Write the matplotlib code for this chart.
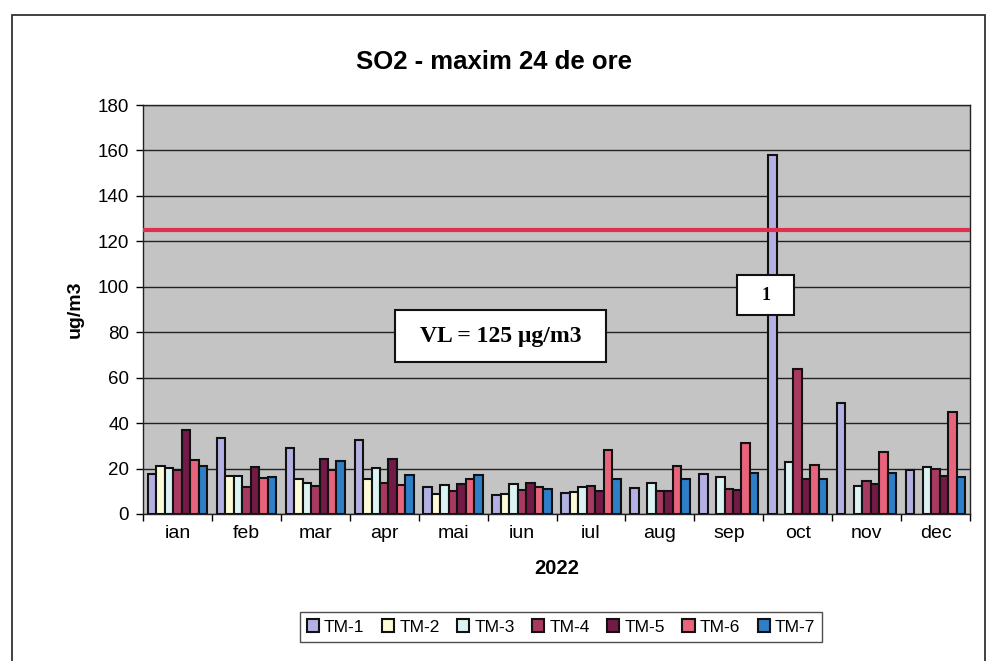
import numpy as np
import matplotlib
matplotlib.use("Agg")
import matplotlib.pyplot as plt
from matplotlib.patches import Rectangle

months = ["ian", "feb", "mar", "apr", "mai", "iun", "iul", "aug", "sep", "oct", "nov", "dec"]
series_names = ["TM-1", "TM-2", "TM-3", "TM-4", "TM-5", "TM-6", "TM-7"]
nan = np.nan
tm1 = [17.6, 33.4, 28.9, 32.5, 12.0, 8.5, 9.1, 11.4, 17.6, 158.0, 49.0, 19.3]
tm2 = [21.2, 16.7, 15.4, 15.5, 8.8, 8.8, 9.7, nan, nan, nan, nan, nan]
tm3 = [20.1, 16.7, 13.5, 20.4, 12.6, 13.2, 11.7, 13.8, 16.4, 22.9, 12.3, 20.5]
tm4 = [19.3, 12.0, 12.3, 13.8, 10.3, 10.5, 12.3, 10.3, 11.1, 63.7, 14.5, 19.6]
tm5 = [36.9, 20.5, 24.3, 24.0, 13.2, 13.8, 10.3, 10.3, 10.5, 15.4, 13.0, 16.8]
tm6 = [23.7, 16.0, 19.3, 12.7, 15.4, 12.0, 28.1, 21.1, 31.3, 21.5, 27.4, 45.0]
tm7 = [21.1, 16.1, 23.4, 17.1, 17.0, 11.1, 15.4, 15.4, 17.9, 15.4, 18.2, 16.4]
series = [tm1, tm2, tm3, tm4, tm5, tm6, tm7]
limit_value = 125
yticks = [0, 20, 40, 60, 80, 100, 120, 140, 160, 180]

colors = ["#b3b1e3", "#fbfbd8", "#dcf3f3", "#a83a62", "#731a46", "#e8637c", "#2f7ec8"]

plt.rcParams['font.family'] = ['Liberation Sans', 'DejaVu Sans']
serif = ["Liberation Serif", "DejaVu Serif"]

fig = plt.figure(figsize=(9.88, 6.61), dpi=100)
fig.patch.set_facecolor("white")
# outer chart border
fig.patches.append(Rectangle((12/988, -0.01), (985-12)/988, 1 - 15/661 + 0.01,
                             transform=fig.transFigure, fill=False,
                             edgecolor="#333333", linewidth=1.3))

ax = fig.add_axes([143/988, 1 - 514/661, (970-143)/988, (514-105)/661])
ax.set_facecolor("#c4c4c4")

x = np.arange(len(months))
n = len(series)
group = 0.86
bw = group / n
for i, (vals, c, name) in enumerate(zip(series, colors, series_names)):
    ax.bar(x - group/2 + bw*(i+0.5), vals, width=bw, color=c,
           edgecolor="#111111", linewidth=1.5, label=name, zorder=3)

ax.set_ylim(0, 180)
ax.set_xlim(-0.5, len(months) - 0.5)
ax.set_yticks(yticks)
ax.yaxis.grid(True, color="#222222", linewidth=1.0, zorder=1)
ax.set_axisbelow(True)
ax.axhline(limit_value, color="#e0304e", linewidth=3, zorder=4)

ax.set_xticks(x)
ax.set_xticklabels(months, fontsize=14)
ax.tick_params(axis='x', length=0, pad=8)
ax.set_xticks(np.arange(-0.5, len(months)), minor=True)
ax.tick_params(axis='x', which='minor', length=5, width=1, direction='out')
ax.tick_params(axis='y', labelsize=13.5, length=5, width=1, direction='out', pad=5)
for s in ax.spines.values():
    s.set_color("#222222")
    s.set_linewidth(1)

ax.set_xlabel("2022", fontsize=14.5, fontweight="bold", labelpad=12)
ax.set_ylabel("ug/m3", fontsize=14, fontweight="bold", labelpad=10)
fig.text(0.5, 1 - 62/661, "SO2 - maxim 24 de ore", ha="center", va="center",
         fontsize=18.5, fontweight="bold")

# VL annotation box
ax.add_patch(Rectangle((3.15, 66.8), 6.22 - 3.15, 89.7 - 66.8, facecolor="white",
                       edgecolor="#111111", linewidth=1.5, zorder=6))
ax.text((3.15 + 6.22) / 2, (66.8 + 89.7) / 2, "VL = 125 μg/m3", ha="center", va="center",
        fontsize=17, fontweight="bold", family=serif, zorder=7)
# "1" callout box
ax.add_patch(Rectangle((8.12, 87.5), 8.95 - 8.12, 105.1 - 87.5, facecolor="white",
                       edgecolor="#111111", linewidth=1.5, zorder=6))
ax.text((8.12 + 8.95) / 2, (87.5 + 105.1) / 2, "1", ha="center", va="center",
        fontsize=13, fontweight="bold", family=serif, zorder=7)

leg = fig.legend(loc="center", bbox_to_anchor=(561/988, 1 - 627/661), ncol=7,
                 fontsize=12.5, frameon=True, handlelength=0.7, handleheight=0.7,
                 handletextpad=0.3, columnspacing=1.0, borderpad=0.4,
                 fancybox=False, edgecolor="#222222")
leg.get_frame().set_linewidth(1.0)

fig.savefig("out.png", dpi=100)
